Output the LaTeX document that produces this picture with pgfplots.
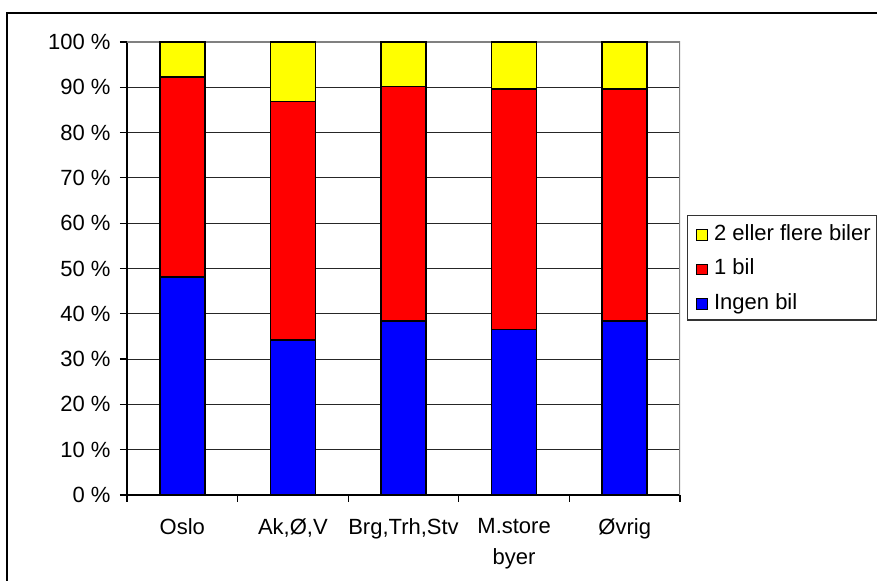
\documentclass[border=0pt]{standalone}
\usepackage{fontspec}
\setmainfont{Liberation Sans}
\usepackage{pgfplots}
\pgfplotsset{compat=1.18}
\definecolor{cyel}{RGB}{255,255,0}
\definecolor{cred}{RGB}{255,0,0}
\definecolor{cblu}{RGB}{0,0,255}
\newcommand{\cf}{\fontsize{22bp}{31bp}\selectfont}
\begin{document}
\begin{tikzpicture}[x=1bp,y=1bp]
\path[use as bounding box] (-127,-86) rectangle (750,495);
\draw[line width=2bp] (-120,-95) -- (-120,482) -- (760,482);
\begin{axis}[
  at={(0,0)}, anchor=south west,
  scale only axis, width=553bp, height=453bp,
  ybar stacked, bar width=45bp,
  ymin=0, ymax=100, xmin=-0.5, xmax=4.5,
  axis x line*=bottom, axis y line*=left,
  axis line style={-, black, line width=1.5bp},
  ytick={0,10,...,100},
  yticklabel={\pgfmathprintnumber[assume math mode=true]{\tick}\ \%},
  ymajorgrids, major grid style={black!85, line width=1bp},
  tick align=outside, major tick length=7bp,
  tick style={black, line width=1.2bp},
  xtick={-0.5,0.5,...,4.5}, xticklabels={},
  extra x ticks={0,1,2,3,4},
  extra x tick labels={Oslo,{Ak,Ø,V},{Brg,Trh,Stv},{M.store\\byer},Øvrig},
  extra x tick style={major tick length=0bp, grid=none},
  xticklabel style={align=center, font=\cf, yshift=-20bp},
  yticklabel style={font=\cf, xshift=-6bp},
  legend style={at={(rel axis cs:1.0127,0.618)}, anchor=north west, draw=black!80, line width=1.2bp, font=\cf, row sep=13bp, inner xsep=4bp, inner ysep=7bp, cells={anchor=west}},
  legend image code/.code={\path (0bp,0bp) (19bp,0bp); \draw[#1, line width=1bp] (4bp,-7bp) rectangle (15bp,3.5bp);},
  reverse legend,
  every axis plot/.append style={draw=black, line width=1.5bp},
]
\addplot[fill=cblu] coordinates {(0,48.1) (1,34.2) (2,38.4) (3,36.5) (4,38.4)};
\addplot[fill=cred] coordinates {(0,44.2) (1,52.7) (2,51.8) (3,53.1) (4,51.2)};
\addplot[fill=cyel] coordinates {(0,7.7) (1,13.1) (2,9.8) (3,10.4) (4,10.4)};
\legend{Ingen bil,1 bil,2 eller flere biler}
\draw[black!50, line width=1.5bp] (rel axis cs:0,1) -- (rel axis cs:1,1) -- (rel axis cs:1,0);
\end{axis}
\end{tikzpicture}
\end{document}
